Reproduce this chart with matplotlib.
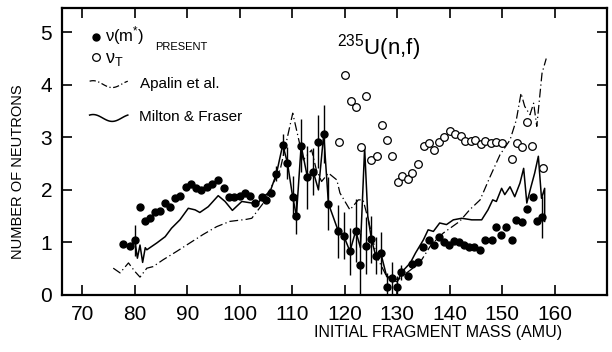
import numpy as np
import matplotlib
matplotlib.use("Agg")
import matplotlib.pyplot as plt

plt.rcParams['font.family'] = ['Liberation Sans', 'DejaVu Sans']
plt.rcParams['mathtext.default'] = 'regular'

# nu(m*) present work (filled points) with error bars
mass_m = [77.8, 79.0, 80.0, 81.0, 81.9, 82.9, 83.8, 84.8, 85.8, 86.7, 87.7, 88.7, 89.8, 90.7,
          91.7, 92.6, 93.7, 94.8, 95.9, 97.0, 98.0, 98.9, 100.0, 101.0, 101.9, 102.9, 104.2,
          105.0, 105.9, 107.0, 108.2, 109.1, 110.1, 110.8, 111.7, 112.9, 114.0, 115.0, 116.0,
          116.9, 118.8, 119.8, 121.0, 122.1, 122.9, 124.0, 125.1, 125.9, 126.9, 128.1, 129.1,
          130.0, 130.8, 132.0, 132.9, 134.0, 135.0, 136.0, 137.0, 138.0, 139.0, 139.9, 140.9,
          141.8, 142.8, 143.7, 144.7, 145.8, 146.8, 148.0, 148.8, 149.8, 150.8, 151.9, 152.7,
          153.8, 154.8, 155.9, 156.7, 157.6]
nu_m = [0.97, 0.94, 1.04, 1.67, 1.40, 1.46, 1.57, 1.60, 1.75, 1.67, 1.84, 1.89, 2.06, 2.11,
        2.03, 2.00, 2.06, 2.11, 2.19, 2.03, 1.86, 1.87, 1.89, 1.94, 1.89, 1.75, 1.86,
        1.81, 1.95, 2.31, 2.86, 2.51, 1.86, 1.51, 2.84, 2.24, 2.35, 2.92, 3.06,
        1.74, 1.21, 1.13, 0.83, 1.22, 0.58, 0.94, 1.06, 0.75, 0.79, 0.16, 0.32,
        0.16, 0.43, 0.37, 0.59, 0.63, 0.92, 1.05, 0.96, 1.10, 1.00, 0.96, 1.02,
        1.00, 0.96, 0.92, 0.91, 0.86, 1.05, 1.05, 1.30, 1.15, 1.29, 1.04, 1.43,
        1.39, 1.64, 1.86, 1.40, 1.48]
err_m = [0, 0, 0.3, 0, 0, 0, 0, 0, 0, 0, 0, 0, 0, 0,
         0, 0, 0, 0, 0, 0, 0, 0, 0, 0, 0, 0, 0,
         0, 0, 0.15, 0.2, 0.3, 0.4, 0.35, 0.5, 0.6, 0.45, 0.5, 0.55,
         0.5, 0.5, 0.45, 0.45, 0.6, 0.6, 0.55, 0.45, 0.35, 0.4, 0.25, 0.3,
         0.2, 0.15, 0, 0, 0, 0, 0, 0, 0, 0, 0, 0,
         0, 0, 0, 0, 0, 0, 0, 0, 0, 0, 0, 0,
         0, 0, 0, 0, 0.4]

# nu_T present work (open points)
mass_t = [119.0, 120.0, 121.2, 122.1, 123.1, 124.0, 125.0, 126.1, 127.1, 128.1, 129.1, 130.1,
          131.0, 132.0, 132.9, 133.9, 135.1, 136.1, 137.0, 138.0, 138.9, 140.0, 141.0, 142.1,
          143.0, 144.0, 144.9, 145.9, 146.8, 147.8, 148.9, 149.9, 151.9, 152.9, 153.8, 154.8,
          155.7, 157.8]
nu_t = [2.92, 4.18, 3.70, 3.57, 2.81, 3.78, 2.56, 2.64, 3.24, 2.95, 2.65, 2.15,
        2.27, 2.21, 2.32, 2.49, 2.83, 2.90, 2.76, 2.92, 3.00, 3.12, 3.06, 3.03,
        2.93, 2.93, 2.95, 2.88, 2.93, 2.90, 2.92, 2.89, 2.59, 2.90, 2.81, 3.30,
        2.83, 2.41]

# Apalin et al. (dash-dot)
mass_ap = [75.9, 77.2, 78.8, 80.0, 81.0, 82.3, 83.5, 85.4, 88.0, 90.5, 93.0, 95.6, 98.1, 101.3,
           102.3, 104.5, 106.4, 107.7, 110.1, 111.1, 112.1, 113.7, 114.6, 115.6, 116.9, 118.5,
           119.1, 121.0, 122.6, 123.5, 124.5, 126.1, 128.0, 130.2, 131.8, 134.3, 136.5, 138.8,
           141.9, 143.8, 145.8, 147.7, 149.6, 151.5, 152.7, 153.6, 154.3, 155.3, 156.0, 156.6,
           157.6, 158.4]
nu_ap = [0.51, 0.42, 0.61, 0.45, 0.34, 0.51, 0.54, 0.67, 0.83, 0.99, 1.15, 1.30, 1.40, 1.44,
         1.46, 1.75, 2.13, 2.38, 3.46, 3.02, 2.57, 2.76, 2.38, 2.16, 2.32, 2.19,
         1.94, 1.62, 1.81, 1.81, 1.43, 0.73, 0.35, 0.29, 0.42, 0.61, 0.96, 1.18,
         1.40, 1.62, 1.81, 2.25, 2.67, 2.95, 3.33, 3.84, 3.59, 3.43, 3.65, 3.21,
         4.22, 4.50]

# Milton & Fraser (solid)
mass_mf = [80.0, 80.5, 81.0, 81.5, 82.0, 82.3, 84.2, 85.8, 87.0, 88.6, 90.2, 91.5, 92.4, 94.0,
           95.9, 97.2, 98.6, 100.4, 102.3, 103.2, 104.5, 105.8, 107.0, 108.2, 109.1, 110.1,
           110.8, 111.7, 112.9, 114.0, 115.0, 116.0, 116.9, 118.8, 119.8, 121.0, 122.1, 123.0,
           123.8, 124.4, 125.1, 125.9, 126.9, 128.0, 129.0, 130.0, 131.0, 132.5, 133.5, 135.0,
           135.9, 136.9, 138.1, 139.4, 140.7, 142.3, 144.2, 146.1, 147.3, 148.2, 148.9, 149.9,
           150.5, 151.5, 152.4, 153.4, 154.1, 154.7, 155.5, 156.2, 156.9, 157.5, 158.1, 158.1]
nu_mf = [1.05, 0.70, 0.95, 0.62, 0.90, 0.86, 0.99, 1.11, 1.27, 1.43, 1.65, 1.62, 1.57, 1.68,
         1.89, 1.78, 1.61, 1.78, 1.75, 1.72, 1.87, 1.97, 2.31, 2.86, 2.51, 1.86,
         1.51, 2.84, 2.24, 2.35, 2.00, 3.06, 1.74, 1.21, 1.13, 0.83, 1.22, 0.90,
         2.80, 1.50, 1.06, 0.75, 0.79, 0.35, 0.30, 0.25, 0.45, 0.61, 0.80, 1.05,
         1.24, 1.21, 1.37, 1.34, 1.43, 1.46, 1.43, 1.43, 1.62, 1.81, 1.78, 2.03,
         1.91, 2.06, 1.87, 2.13, 2.41, 1.75, 2.06, 2.32, 2.64, 1.84, 2.03, 1.40]

x_ticks = list(range(70, 161, 10))
y_ticks = [0, 1, 2, 3, 4, 5]

fig = plt.figure(figsize=(6.12, 3.52), dpi=100)
ax = fig.add_axes([0.101, 0.162, 0.891, 0.815])

ax.plot(mass_ap, nu_ap, color='black', lw=0.9, ls=(0, (7, 2.5, 1, 2.5)))
ax.plot(mass_mf, nu_mf, color='black', lw=1.1)
ax.errorbar(mass_m, nu_m, yerr=err_m, fmt='o', ms=5, color='black', ecolor='black',
            elinewidth=1.0, capsize=0)
ax.plot(mass_t, nu_t, 'o', ms=5.5, mfc='white', mec='black', mew=0.9)

ax.set_xlim(66.1, 170)
ax.set_ylim(0, 5.46)
ax.set_xticks(x_ticks)
ax.set_yticks(y_ticks)
ax.tick_params(direction='in', length=7, width=1.2, top=True, right=True,
               labelsize=15, pad=7)
for s in ax.spines.values():
    s.set_linewidth(1.6)

# legend drawn by hand, like the original
tr = ax.transAxes
ax.plot([0.0624], [0.899], 'o', ms=5, color='black', transform=tr)
ax.text(0.079, 0.906, r'$\nu(m^{*})$', transform=tr, fontsize=12, va='center')
ax.plot([0.0624], [0.829], 'o', ms=5.5, mfc='white', mec='black', mew=0.9, transform=tr)
ax.text(0.079, 0.822, r'$\nu_T$', transform=tr, fontsize=13, va='center')
ax.text(0.171, 0.864, 'PRESENT', transform=tr, fontsize=8, va='center')
sx = np.linspace(0.051, 0.121, 30)
ax.plot(sx, 0.735 + 0.012 * np.sin((sx - 0.051) / 0.07 * 2 * np.pi + 1.0), color='black',
        lw=0.9, ls=(0, (5, 2, 1, 2)), transform=tr)
ax.text(0.143, 0.737, 'Apalin et al.', transform=tr, fontsize=11, va='center')
ax.plot(sx, 0.617 + 0.012 * np.sin((sx - 0.051) / 0.07 * 2 * np.pi + 1.0), color='black',
        lw=1.1, transform=tr)
ax.text(0.141, 0.622, 'Milton & Fraser', transform=tr, fontsize=11, va='center')
ax.text(0.505, 0.861, '$^{235}$U(n,f)', transform=tr, fontsize=16, va='center')

fig.text(18 / 612, 1 - 172 / 352, 'NUMBER OF NEUTRONS', rotation=90, fontsize=10.5,
         ha='center', va='center')
fig.text(438 / 612, 1 - 333 / 352, 'INITIAL FRAGMENT MASS (AMU)', fontsize=11.5,
         ha='center', va='center')

fig.savefig('out.png', dpi=100)
